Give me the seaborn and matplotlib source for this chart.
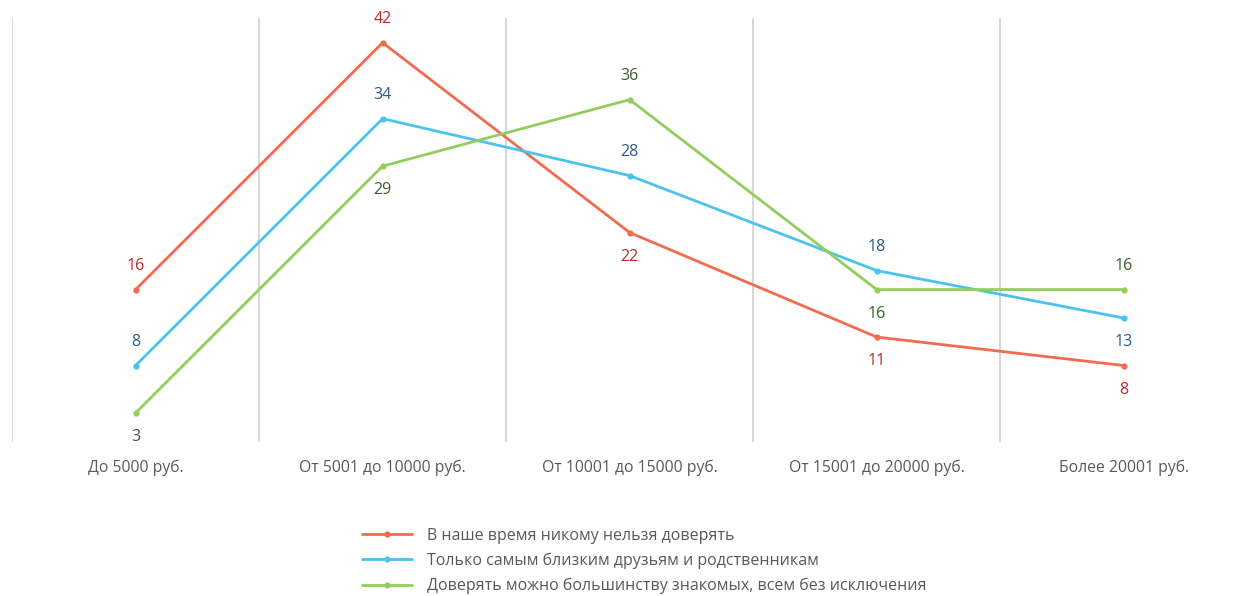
import matplotlib
matplotlib.use("Agg")
import matplotlib.pyplot as plt
import seaborn as sns
import pandas as pd
import numpy as np

categories = ["До 5000 руб.", "От 5001 до 10000 руб.", "От 10001 до 15000 руб.",
              "От 15001 до 20000 руб.", "Более 20001 руб."]
series_names = ["В наше время никому нельзя доверять",
                "Только самым близким друзьям и родственникам",
                "Доверять можно большинству знакомых, всем без исключения"]
red_vals = [16, 42, 22, 11, 8]
blue_vals = [8, 34, 28, 18, 13]
green_vals = [3, 29, 36, 16, 16]

line_colors = ["#F26B4F", "#4BC3EE", "#92CD5E"]
label_colors = ["#C0282A", "#2E5A87", "#3D5E2B"]
# +1 above, -1 below
label_pos = [[1, 1, -1, -1, -1],
             [1, 1, 1, 1, -1],
             [-1, -1, 1, -1, 1]]

sns.set_theme(style="white")
plt.rcParams['font.family'] = ['Open Sans', 'DejaVu Sans']

rows = []
for name, vals in zip(series_names, [red_vals, blue_vals, green_vals]):
    for c, v in zip(categories, vals):
        rows.append({"cat": c, "val": v, "series": name})
df = pd.DataFrame(rows)

fig = plt.figure(figsize=(12.35, 5.96), dpi=100)
ax = fig.add_axes([12 / 1235, 1 - 441.5 / 596, 1 - 12 / 1235, (441.5 - 18) / 596])

sns.lineplot(data=df, x="cat", y="val", hue="series", palette=line_colors,
             marker="o", markersize=4.5, markeredgewidth=0, linewidth=2,
             sort=False, ax=ax, legend=True)

ax.set_xlim(-0.5, 4.45)
ax.set_ylim(0, 44.6)
for i in range(len(categories)):
    ax.axvline(i - 0.5, color="#D4D4D4", linewidth=1.3, zorder=0)

for s, vals in enumerate([red_vals, blue_vals, green_vals]):
    for i, v in enumerate(vals):
        off = 24 * label_pos[s][i]
        ax.annotate(str(v), (i, v), xytext=(0, off), textcoords="offset pixels",
                    ha="center", va="center", color=label_colors[s], fontsize=11.5)

for sp in ax.spines.values():
    sp.set_visible(False)
ax.set_yticks([])
ax.set_xlabel("")
ax.set_ylabel("")
ax.set_xticks(range(len(categories)))
ax.set_xticklabels(categories, color="#595959", fontsize=11.3)
ax.tick_params(axis="x", length=0, pad=13)

handles, labels = ax.get_legend_handles_labels()
ax.get_legend().remove()
leg = fig.legend(handles, labels, loc="center left",
                 bbox_to_anchor=(362 / 1235, 1 - 561 / 596), frameon=False,
                 fontsize=11.5, handlelength=3.1, handletextpad=0.95,
                 labelspacing=0.55, borderpad=0, borderaxespad=0)
for t in leg.get_texts():
    t.set_color("#595959")

fig.savefig("out.png", dpi=100)
